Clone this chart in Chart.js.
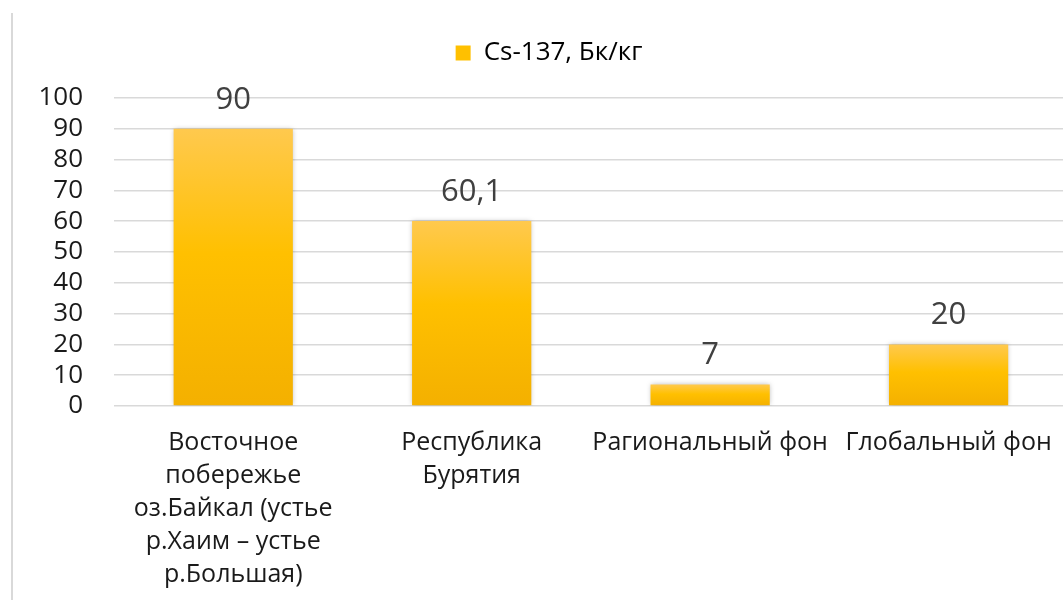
<!DOCTYPE html>
<html lang="ru">
<head>
  <meta charset="UTF-8" />
  <title>Cs-137, Бк/кг</title>
  <script src="https://cdn.jsdelivr.net/npm/chart.js"></script>
  <style>
    html, body { margin: 0; padding: 0; background: #fff; overflow: hidden; }
    .wrap { position: relative; width: 1063px; height: 600px; overflow: hidden; }
    .frame { position: absolute; left: 11px; top: 13px; height: 600px; border-left: 2px solid #d9d9d9; }
    canvas { position: absolute; left: 0; top: 0; }
  </style>
</head>
<body>
  <div class="wrap">
    <canvas id="chart" width="1072" height="600"></canvas>
    <div class="frame"></div>
  </div>

  <script>
    const categories = [
      ['Восточное', 'побережье', 'оз.Байкал (устье', 'р.Хаим – устье', 'р.Большая)'],
      ['Республика', 'Бурятия'],
      'Рагиональный фон',
      'Глобальный фон'
    ];
    const seriesName = 'Cs-137, Бк/кг';
    const values = [90, 60.1, 7, 20];
    const valueLabels = ['90', '60,1', '7', '20'];
    const yTicks = { min: 0, max: 100, step: 10 };

    const FONT = '"Open Sans", "Noto Sans", sans-serif';

    // gradient per bar, light at the top, darker at the base
    function barFill(ctx) {
      const chart = ctx.chart;
      const y = chart.scales && chart.scales.y;
      if (!y || !chart.chartArea || ctx.dataIndex === undefined) return '#ffc000';
      const top = y.getPixelForValue(values[ctx.dataIndex]);
      const bottom = y.getPixelForValue(0);
      if (!isFinite(top) || !isFinite(bottom) || top === bottom) return '#ffc000';
      const g = chart.ctx.createLinearGradient(0, top, 0, bottom);
      g.addColorStop(0, '#ffc94e');
      g.addColorStop(0.45, '#ffc000');
      g.addColorStop(1, '#f4b000');
      return g;
    }

    const layoutFix = {
      id: 'layoutFix',
      beforeLayout(chart) {
        const lg = chart.legend;
        if (lg && !lg._patched) {
          const orig = lg.fit;
          lg.fit = function () { orig.call(this); this.height = 98; };
          lg._patched = true;
        }
      },
      afterLayout(chart) {
        // legend sits a little right of the canvas centre
        chart.legend.left += 14;
        chart.legend.right += 14;
      }
    };

    const barShadow = {
      id: 'barShadow',
      beforeDatasetsDraw(chart) {
        const c = chart.ctx;
        c.save();
        c.shadowColor = 'rgba(0,0,0,0.28)';
        c.shadowBlur = 5;
        c.shadowOffsetX = 0;
        c.shadowOffsetY = 0;
      },
      afterDatasetsDraw(chart) {
        chart.ctx.restore();
      }
    };

    const valueText = {
      id: 'valueText',
      afterDraw(chart) {
        const c = chart.ctx;
        const meta = chart.getDatasetMeta(0);
        c.save();
        c.font = '31px ' + FONT;
        c.fillStyle = '#404040';
        c.textAlign = 'center';
        c.textBaseline = 'alphabetic';
        meta.data.forEach((bar, i) => {
          c.fillText(valueLabels[i], bar.x, bar.y - 20);
        });
        c.restore();
      }
    };

    new Chart(document.getElementById('chart'), {
      type: 'bar',
      data: {
        labels: categories,
        datasets: [{
          label: seriesName,
          data: values,
          backgroundColor: barFill,
          borderWidth: 0,
          barPercentage: 0.5,
          categoryPercentage: 1.0
        }]
      },
      options: {
        responsive: false,
        animation: false,
        devicePixelRatio: 1,
        layout: { padding: { left: 0, right: 2, top: 0, bottom: 0 } },
        plugins: {
          legend: {
            position: 'top',
            labels: {
              boxWidth: 15,
              boxHeight: 15,
              padding: 40,
              color: '#1a1a1a',
              font: { family: FONT, size: 26 },
              generateLabels(chart) {
                return [{
                  text: seriesName,
                  fillStyle: '#ffc000',
                  strokeStyle: '#ffc000',
                  lineWidth: 0,
                  hidden: false,
                  datasetIndex: 0
                }];
              }
            }
          },
          tooltip: { enabled: false }
        },
        scales: {
          x: {
            grid: { display: false, drawTicks: false },
            border: { display: false },
            ticks: {
              autoSkip: false,
              maxRotation: 0,
              minRotation: 0,
              padding: 20,
              color: '#1a1a1a',
              font: { family: FONT, size: 25, lineHeight: 1.32 }
            },
            afterFit(scale) { scale.height = 194; }
          },
          y: {
            min: yTicks.min,
            max: yTicks.max,
            grid: { color: '#d9d9d9', lineWidth: 1.5, drawTicks: false },
            border: { display: false },
            ticks: {
              stepSize: yTicks.step,
              autoSkip: false,
              padding: 31,
              color: '#1a1a1a',
              font: { family: FONT, size: 26, lineHeight: 1 }
            },
            afterFit(scale) { scale.width = 114; }
          }
        }
      },
      plugins: [layoutFix, barShadow, valueText]
    });
  </script>
</body>
</html>
